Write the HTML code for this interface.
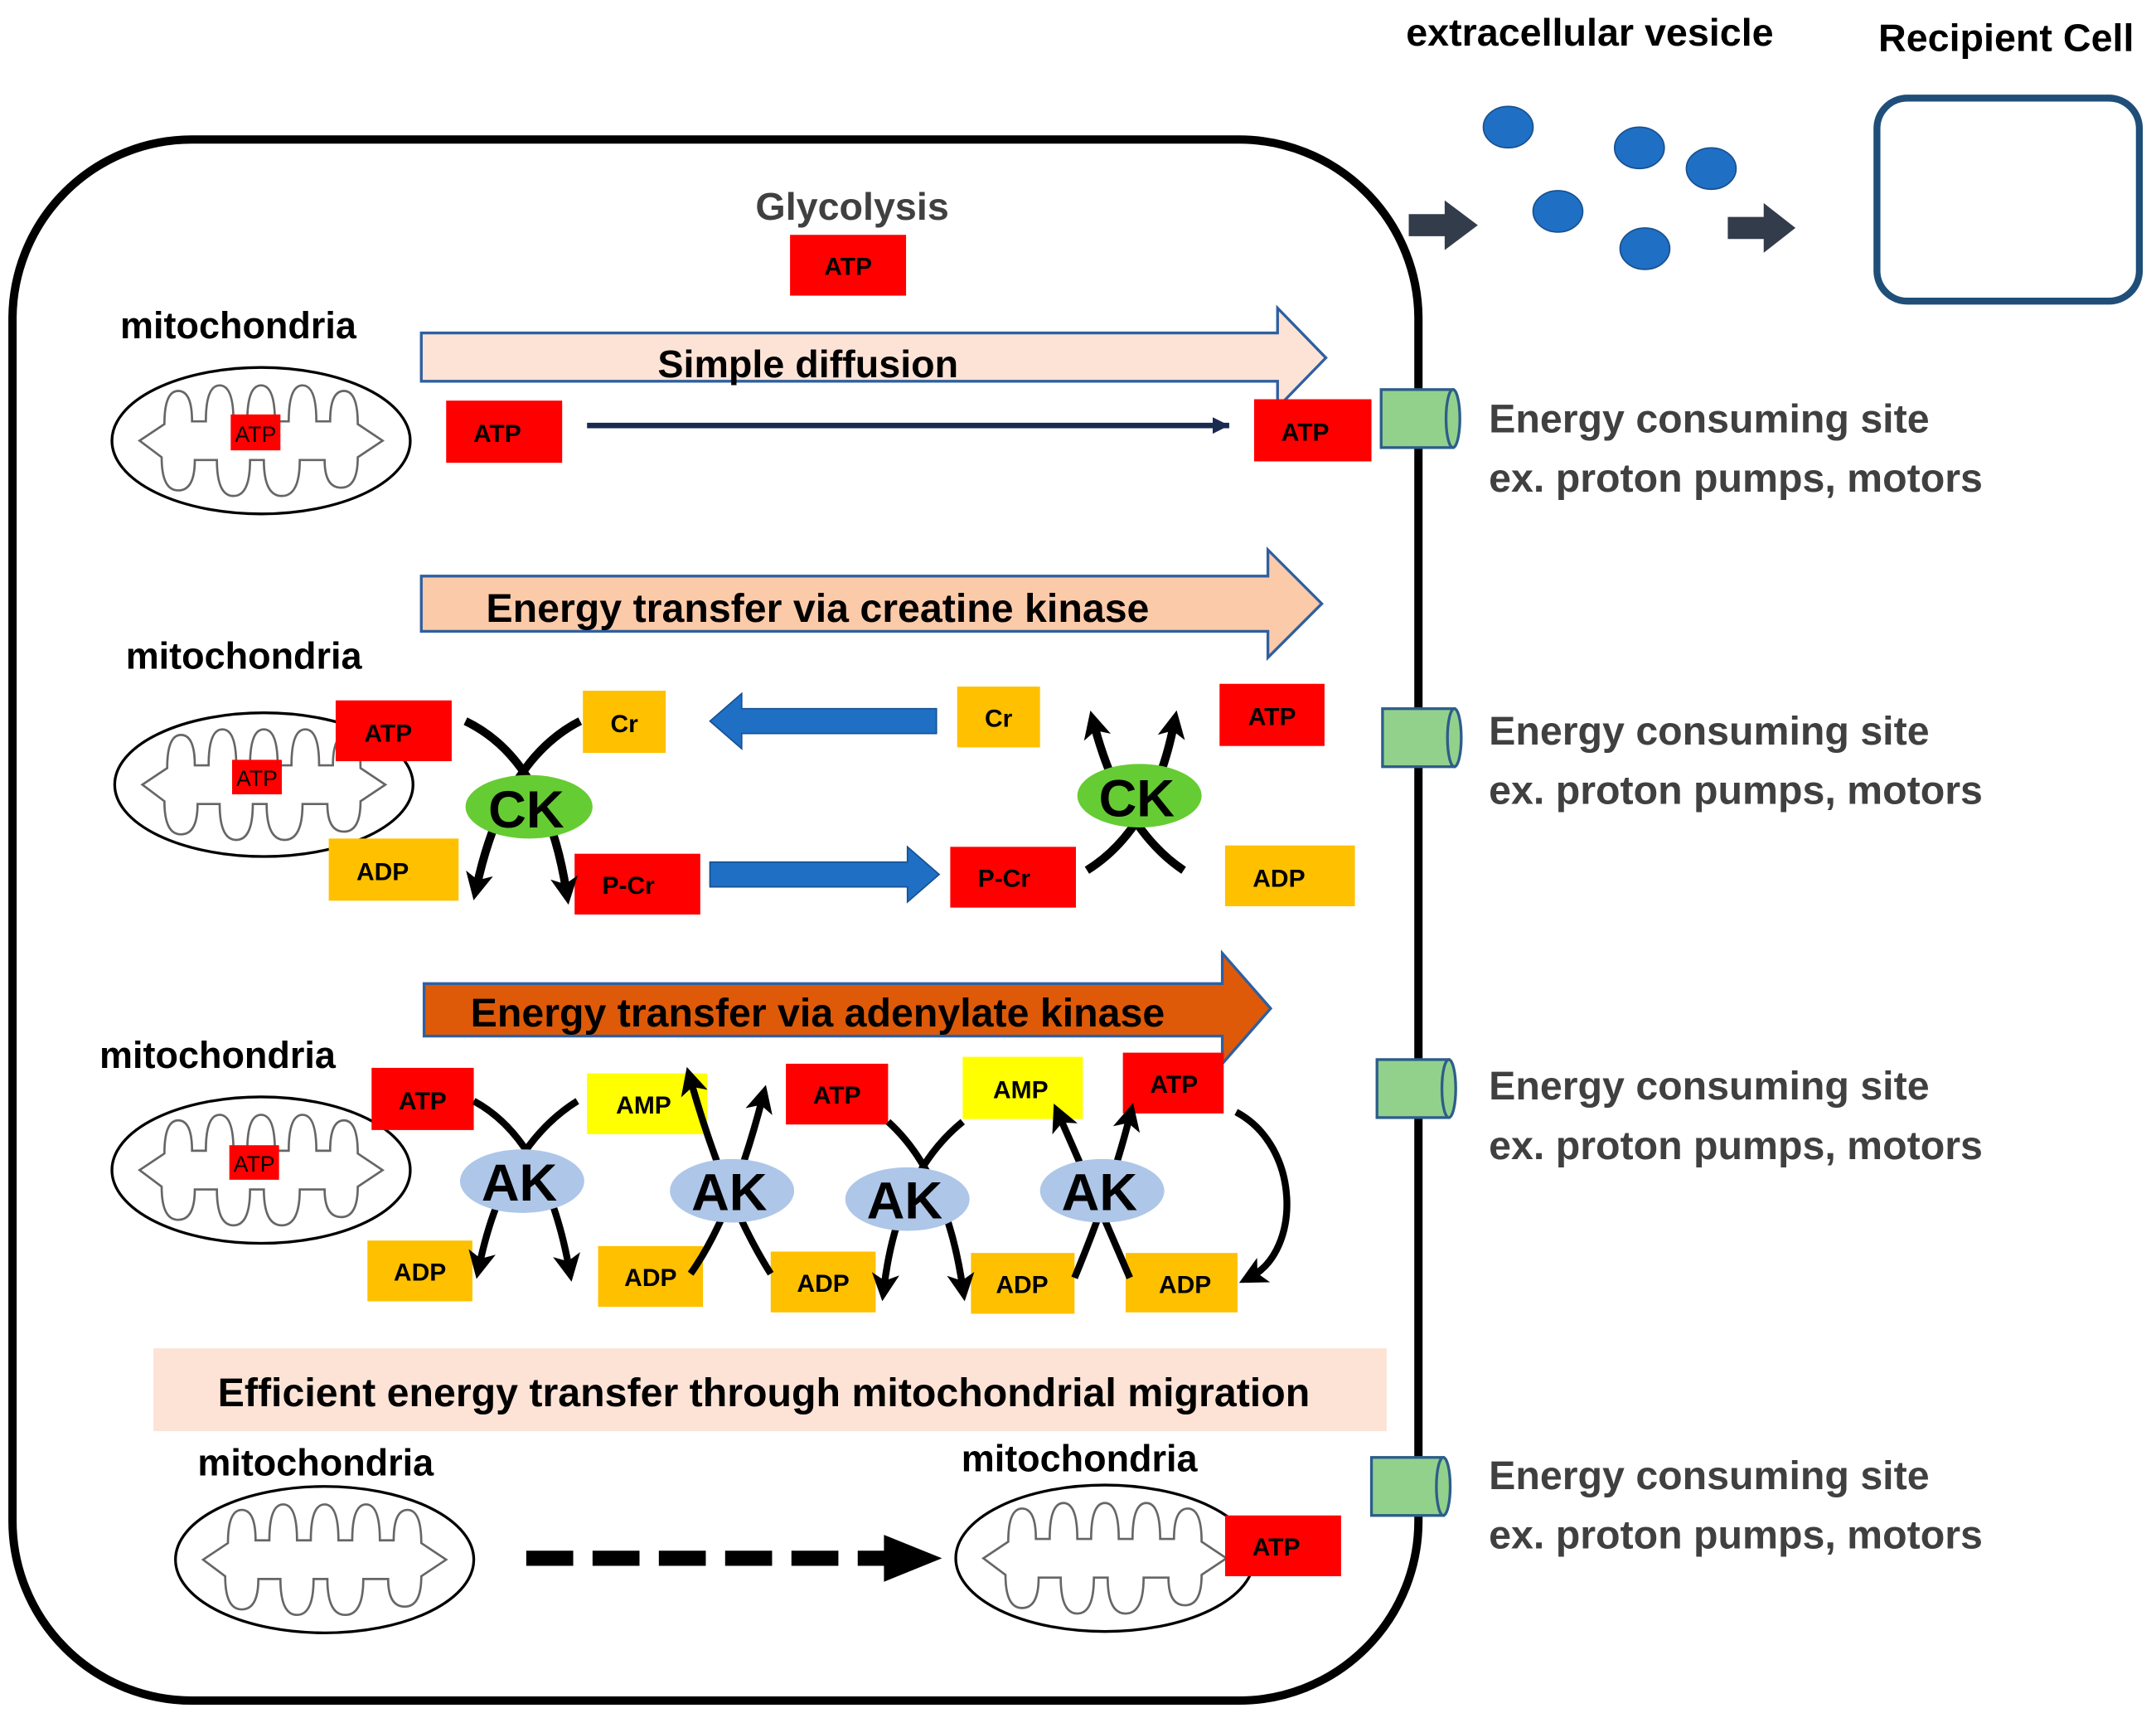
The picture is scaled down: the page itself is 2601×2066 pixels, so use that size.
<!DOCTYPE html>
<html><head><meta charset="utf-8"><style>
html,body{margin:0;padding:0;background:#fff;}
svg{display:block;}
text{font-family:"Liberation Sans",sans-serif;font-weight:bold;}
</style></head><body>
<svg width="2601" height="2066" viewBox="0 0 1561 1240" xmlns="http://www.w3.org/2000/svg">
<defs>
<marker id="ah" markerUnits="userSpaceOnUse" markerWidth="22" markerHeight="22" refX="10" refY="10" orient="auto"><path d="M0,0 L20,10 L0,20 L5,10 z" fill="#000"/></marker>
<marker id="ahn" markerUnits="userSpaceOnUse" markerWidth="14" markerHeight="12" refX="12" refY="6" orient="auto"><path d="M0,0 L12,6 L0,12 z" fill="#1a2a50"/></marker>
<g id="cr"><path d="M-88,0 L-70,-12 Q-70,-36 -60,-36 Q-50,-36 -50,-14 L-40,-14 Q-40,-40 -30,-40 Q-20,-40 -20,-14 L-10,-14 Q-10,-40 0,-40 Q10,-40 10,-14 L20,-14 Q20,-40 30,-40 Q40,-40 40,-14 L50,-14 Q50,-36 60,-36 Q70,-36 70,-12 L88,0 L70,12 Q70,34 58,34 Q46,34 46,14 L28,14 Q28,40 15,40 Q2,40 2,14 L-8,14 Q-8,40 -20,40 Q-32,40 -32,14 L-48,14 Q-48,36 -60,36 Q-72,36 -72,12 Z" fill="none" stroke="#666" stroke-width="1.6"/></g>
<g id="cyl"><rect x="0" y="0" width="52" height="42" fill="#92d18c" stroke="#2d5d8a" stroke-width="2"/><ellipse cx="52" cy="21" rx="5" ry="21" fill="#92d18c" stroke="#2d5d8a" stroke-width="2"/></g>
</defs>

<rect x="9" y="101" width="1018" height="1130" rx="130" fill="none" stroke="#000" stroke-width="6"/>

<text x="1018" y="33" font-size="28">extracellular vesicle</text>
<text x="1360" y="37" font-size="28">Recipient Cell</text>
<g fill="#1f6fc5" stroke="#17508f" stroke-width="1"><ellipse cx="1092" cy="92" rx="18" ry="15"/><ellipse cx="1187" cy="107" rx="18" ry="15"/><ellipse cx="1239" cy="122" rx="18" ry="15"/><ellipse cx="1128" cy="153" rx="18" ry="15"/><ellipse cx="1191" cy="180" rx="18" ry="15"/></g>
<path d="M1020,155 L1046,155 L1046,145 L1070,163 L1046,181 L1046,171 L1020,171 Z" fill="#333c4a"/>
<path d="M1251,157 L1277,157 L1277,147 L1300,165 L1277,183 L1277,173 L1251,173 Z" fill="#333c4a"/>
<rect x="1359" y="71" width="190" height="147" rx="22" fill="none" stroke="#1f4e79" stroke-width="5"/>

<text x="617" y="159" font-size="28" fill="#404040" text-anchor="middle">Glycolysis</text>
<rect x="572" y="170" width="84" height="44" fill="#f00"/><text x="614" y="199" font-size="18" text-anchor="middle">ATP</text>

<text x="87" y="245" font-size="27">mitochondria</text>
<ellipse cx="189" cy="319" rx="108" ry="53" fill="#fff" stroke="#000" stroke-width="2"/>
<use href="#cr" x="189" y="319"/>
<rect x="167" y="300" width="36" height="26" fill="#f00"/><text x="185" y="320" font-size="16" text-anchor="middle" style="font-weight:normal">ATP</text>
<path d="M305,241 L925,241 L925,223 L960,259 L925,295 L925,276 L305,276 Z" fill="#fde3d6" stroke="#2e5fa0" stroke-width="2"/>
<text x="585" y="273" font-size="28" text-anchor="middle">Simple diffusion</text>
<rect x="323" y="290" width="84" height="45" fill="#f00"/><text x="360" y="320" font-size="18" text-anchor="middle">ATP</text>
<line x1="425" y1="308" x2="890" y2="308" stroke="#1a2a50" stroke-width="4" marker-end="url(#ahn)"/>
<rect x="908" y="289" width="85" height="45" fill="#f00"/><text x="945" y="319" font-size="18" text-anchor="middle">ATP</text>

<path d="M305,417 L918,417 L918,398 L957,437 L918,476 L918,457 L305,457 Z" fill="#fbcaa9" stroke="#2e5fa0" stroke-width="2"/>
<text x="592" y="450" font-size="29" text-anchor="middle">Energy transfer via creatine kinase</text>
<text x="91" y="484" font-size="27">mitochondria</text>
<ellipse cx="191" cy="568" rx="108" ry="52" fill="#fff" stroke="#000" stroke-width="2"/>
<use href="#cr" x="191" y="568"/>
<rect x="168" y="550" width="36" height="25" fill="#f00"/><text x="186" y="569" font-size="16" text-anchor="middle" style="font-weight:normal">ATP</text>
<rect x="243" y="507" width="84" height="44" fill="#f00"/><text x="281" y="537" font-size="18" text-anchor="middle">ATP</text>
<rect x="422" y="500" width="60" height="45" fill="#ffc000"/><text x="452" y="530" font-size="18" text-anchor="middle">Cr</text>
<path d="M678,513 L537,513 L537,502 L514,522 L537,542 L537,531 L678,531 Z" fill="#1f6fc5" stroke="#17508f" stroke-width="1"/>
<rect x="693" y="497" width="60" height="44" fill="#ffc000"/><text x="723" y="526" font-size="18" text-anchor="middle">Cr</text>
<rect x="883" y="495" width="76" height="45" fill="#f00"/><text x="921" y="525" font-size="18" text-anchor="middle">ATP</text>
<rect x="238" y="607" width="94" height="45" fill="#ffc000"/><text x="277" y="637" font-size="18" text-anchor="middle">ADP</text>
<rect x="416" y="618" width="91" height="44" fill="#f00"/><text x="455" y="647" font-size="18" text-anchor="middle">P-Cr</text>
<path d="M514,624 L657,624 L657,613 L680,633 L657,653 L657,642 L514,642 Z" fill="#1f6fc5" stroke="#17508f" stroke-width="1"/>
<rect x="688" y="613" width="91" height="44" fill="#f00"/><text x="727" y="642" font-size="18" text-anchor="middle">P-Cr</text>
<rect x="887" y="612" width="94" height="44" fill="#ffc000"/><text x="926" y="642" font-size="18" text-anchor="middle">ADP</text>
<g fill="none" stroke="#000" stroke-width="6">
<path d="M337,522 Q395,550 410,645" marker-end="url(#ah)"/>
<path d="M420,522 Q365,550 345,642" marker-end="url(#ah)"/>
<path d="M787,630 Q835,600 850,524" marker-end="url(#ah)"/>
<path d="M857,630 Q812,600 792,524" marker-end="url(#ah)"/>
</g>
<ellipse cx="383" cy="584" rx="46" ry="23" fill="#66cc33"/><text x="381" y="599" font-size="38" text-anchor="middle">CK</text>
<ellipse cx="825" cy="576" rx="45" ry="23" fill="#66cc33"/><text x="823" y="591" font-size="38" text-anchor="middle">CK</text>

<path d="M307,712 L885,712 L885,690 L920,730 L885,770 L885,750 L307,750 Z" fill="#de5a08" stroke="#2e5fa0" stroke-width="2"/>
<text x="592" y="743" font-size="29" text-anchor="middle">Energy transfer via adenylate kinase</text>
<text x="72" y="773" font-size="27">mitochondria</text>
<ellipse cx="189" cy="847" rx="108" ry="53" fill="#fff" stroke="#000" stroke-width="2"/>
<use href="#cr" x="189" y="847"/>
<rect x="166" y="829" width="36" height="25" fill="#f00"/><text x="184" y="848" font-size="16" text-anchor="middle" style="font-weight:normal">ATP</text>
<rect x="269" y="773" width="74" height="45" fill="#f00"/><text x="306" y="803" font-size="18" text-anchor="middle">ATP</text>
<rect x="425" y="777" width="87" height="44" fill="#ff0"/><text x="466" y="806" font-size="18" text-anchor="middle">AMP</text>
<rect x="569" y="770" width="74" height="44" fill="#f00"/><text x="606" y="799" font-size="18" text-anchor="middle">ATP</text>
<rect x="697" y="765" width="87" height="45" fill="#ff0"/><text x="739" y="795" font-size="18" text-anchor="middle">AMP</text>
<rect x="813" y="762" width="73" height="44" fill="#f00"/><text x="850" y="791" font-size="18" text-anchor="middle">ATP</text>
<rect x="266" y="898" width="76" height="44" fill="#ffc000"/><text x="304" y="927" font-size="18" text-anchor="middle">ADP</text>
<rect x="433" y="902" width="76" height="44" fill="#ffc000"/><text x="471" y="931" font-size="18" text-anchor="middle">ADP</text>
<rect x="558" y="906" width="76" height="44" fill="#ffc000"/><text x="596" y="935" font-size="18" text-anchor="middle">ADP</text>
<rect x="703" y="907" width="75" height="44" fill="#ffc000"/><text x="740" y="936" font-size="18" text-anchor="middle">ADP</text>
<rect x="815" y="907" width="81" height="43" fill="#ffc000"/><text x="858" y="936" font-size="18" text-anchor="middle">ADP</text>
<g fill="none" stroke="#000" stroke-width="5">
<path d="M343,797 Q395,825 412,918" marker-end="url(#ah)"/>
<path d="M418,797 Q365,830 347,916" marker-end="url(#ah)"/>
<path d="M500,922 Q530,880 552,795" marker-end="url(#ah)"/>
<path d="M558,922 Q525,870 500,782" marker-end="url(#ah)"/>
<path d="M643,812 Q685,850 697,932" marker-end="url(#ah)"/>
<path d="M697,812 Q650,850 640,932" marker-end="url(#ah)"/>
<path d="M778,925 Q805,860 818,808" marker-end="url(#ah)"/>
<path d="M818,925 Q790,860 767,808" marker-end="url(#ah)"/>
<path d="M895,805 C942,830 942,905 906,924" marker-end="url(#ah)"/>
</g>
<ellipse cx="378" cy="855" rx="45" ry="23" fill="#aec6e8"/><text x="376" y="869" font-size="38" text-anchor="middle">AK</text>
<ellipse cx="530" cy="862" rx="45" ry="23" fill="#aec6e8"/><text x="528" y="876" font-size="38" text-anchor="middle">AK</text>
<ellipse cx="657" cy="868" rx="45" ry="23" fill="#aec6e8"/><text x="655" y="882" font-size="38" text-anchor="middle">AK</text>
<ellipse cx="798" cy="862" rx="45" ry="23" fill="#aec6e8"/><text x="796" y="876" font-size="38" text-anchor="middle">AK</text>

<rect x="111" y="976" width="893" height="60" fill="#fde3d6"/>
<text x="553" y="1018" font-size="29" text-anchor="middle">Efficient energy transfer through mitochondrial migration</text>
<text x="143" y="1068" font-size="27">mitochondria</text>
<text x="696" y="1065" font-size="27">mitochondria</text>
<ellipse cx="235" cy="1129" rx="108" ry="53" fill="#fff" stroke="#000" stroke-width="2"/>
<use href="#cr" x="235" y="1129"/>
<ellipse cx="800" cy="1128" rx="108" ry="53" fill="#fff" stroke="#000" stroke-width="2"/>
<use href="#cr" x="800" y="1128"/>
<rect x="887" y="1097" width="84" height="44" fill="#f00"/><text x="924" y="1126" font-size="18" text-anchor="middle">ATP</text>
<line x1="381" y1="1128" x2="642" y2="1128" stroke="#000" stroke-width="11" stroke-dasharray="34,14"/>
<path d="M640,1111 L682,1128 L640,1145 Z" fill="#000"/>

<use href="#cyl" x="1000" y="282"/>
<use href="#cyl" x="1001" y="513"/>
<use href="#cyl" x="997" y="767"/>
<use href="#cyl" x="993" y="1055"/>

<g font-size="29" fill="#404040">
<text x="1078" y="313">Energy consuming site</text><text x="1078" y="356">ex. proton pumps, motors</text>
<text x="1078" y="539">Energy consuming site</text><text x="1078" y="582">ex. proton pumps, motors</text>
<text x="1078" y="796">Energy consuming site</text><text x="1078" y="839">ex. proton pumps, motors</text>
<text x="1078" y="1078">Energy consuming site</text><text x="1078" y="1121">ex. proton pumps, motors</text>
</g>
</svg>
</body></html>
